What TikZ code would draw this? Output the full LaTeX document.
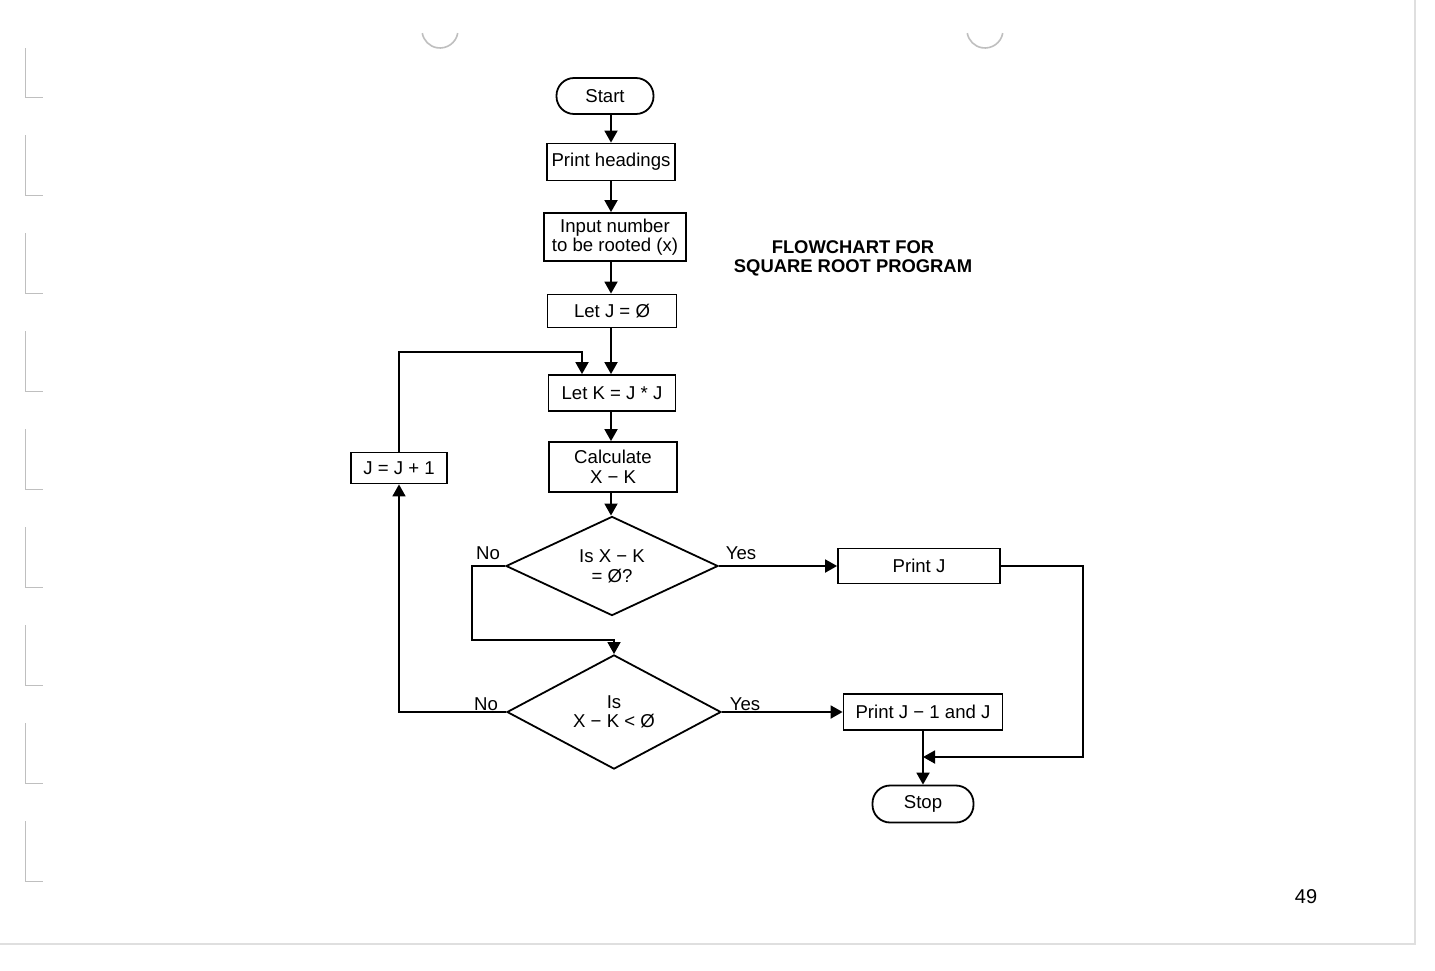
\documentclass[tikz,border=0pt]{standalone}
\usepackage{fontspec}
\setmainfont{Liberation Sans}
\usetikzlibrary{shapes.geometric,arrows.meta}
\begin{document}
\begin{tikzpicture}[x=0.5pt,y=-0.5pt,
  every node/.style={font=\fontsize{9.3}{9.6}\selectfont},
  box/.style={draw, line width=0.9pt, rectangle, inner sep=0pt, align=center},
  term/.style={draw, line width=0.9pt, rectangle, rounded corners=8.8pt, inner sep=0pt},
  decision/.style={draw, diamond, line width=0.9pt, inner sep=0pt, align=center},
  arr/.style={line width=0.9pt, -{Triangle[length=6pt,width=6.5pt]}},
  scanmark/.style={gray!50, line width=0.5pt},
  lbl/.style={inner sep=0pt}]
\useasboundingbox[fill=white] (0,0) rectangle (1435,970);

% scan artefacts: binder marks, punch holes, page edge
\foreach \b/\t in {97/48,195/135,293/233,391/331,489/429,587/527,685/625,783/723,881/821}{
  \draw[scanmark] (25,\t) -- (25,\b) -- (43,\b);
}
\draw[scanmark, line width=0.8pt] (440,30) ++(10:18) arc[start angle=10,end angle=170,radius=18];
\draw[scanmark, line width=0.8pt] (985,30) ++(10:18) arc[start angle=10,end angle=170,radius=18];
\draw[gray!25, line width=0.8pt] (1415,0) -- (1415,944) -- (0,944);

% nodes
\node[term, minimum width=48.5pt, minimum height=18pt] (start) at (605,96) {Start};
\node[box, minimum width=64pt, minimum height=18.5pt] (ph) at (611,162) {Print headings};
\node[box, minimum width=71pt, minimum height=24pt] (inp) at (615,237) {Input number\\to be rooted (x)};
\node[box, minimum width=64.5pt, minimum height=16.5pt] (letj) at (612,311) {Let J = Ø};
\node[box, minimum width=63.5pt, minimum height=18pt] (letk) at (612,393) {Let K = J * J};
\node[box, minimum width=64pt, minimum height=25pt] (calc) at (613,467) {Calculate\\[0.5pt]X − K};
\node[decision, minimum width=106pt, minimum height=47pt] (d1) at (612,566) {Is X − K\\[0.5pt]= Ø?};
\node[decision, minimum width=107pt, minimum height=48pt] (d2) at (614,712) {Is\\X − K < Ø};
\node[box, minimum width=81pt, minimum height=17.5pt] (pj) at (919,566) {Print J};
\node[box, minimum width=79.5pt, minimum height=18pt] (pj1) at (923,712) {Print J − 1 and J};
\node[term, minimum width=50.5pt, minimum height=18.5pt] (stop) at (923,804) {Stop};
\node[box, minimum width=48pt, minimum height=15.5pt] (jinc) at (399,468) {J = J + 1};

\node[lbl] (no1) at (488,553) {No};
\node[lbl] (yes1) at (741,553) {Yes};
\node[lbl] (no2) at (486,704) {No};
\node[lbl] (yes2) at (745,704) {Yes};

\node[align=center, font=\bfseries\fontsize{9.2}{9.5}\selectfont] (title) at (853,258) {FLOWCHART FOR\\SQUARE ROOT PROGRAM};
\node[font=\fontsize{10}{12}\selectfont] (pageno) at (1306,897) {49};

% connectors
\coordinate (col) at (611,0);
\draw[arr] (start.south -| col) -- (ph.north -| col);
\draw[arr] (ph.south -| col) -- (inp.north -| col);
\draw[arr] (inp.south -| col) -- (letj.north -| col);
\draw[arr] (letj.south -| col) -- (letk.north -| col);
\draw[arr] (letk.south -| col) -- (calc.north -| col);
\draw[arr] (calc.south -| col) -- (d1.north -| col);

\coordinate (n1) at (472,640);
\draw[arr] (d1.west) -| (n1) -| (d2.north);
\draw[arr] (d1.east) -- (pj.west);
\draw[arr] (d2.east) -- (pj1.west);

\coordinate (rt) at (1083,757);
\coordinate (mrg) at (923,757);
\draw[arr] (pj.east) -| (rt) -- (mrg);
\draw[arr] (pj1.south) -- (stop.north);

\draw[arr] (d2.west) -| (jinc.south);
\coordinate (lk) at (582,352);
\draw[arr] (jinc.north) |- (lk) -- (lk |- letk.north);
\end{tikzpicture}
\end{document}
